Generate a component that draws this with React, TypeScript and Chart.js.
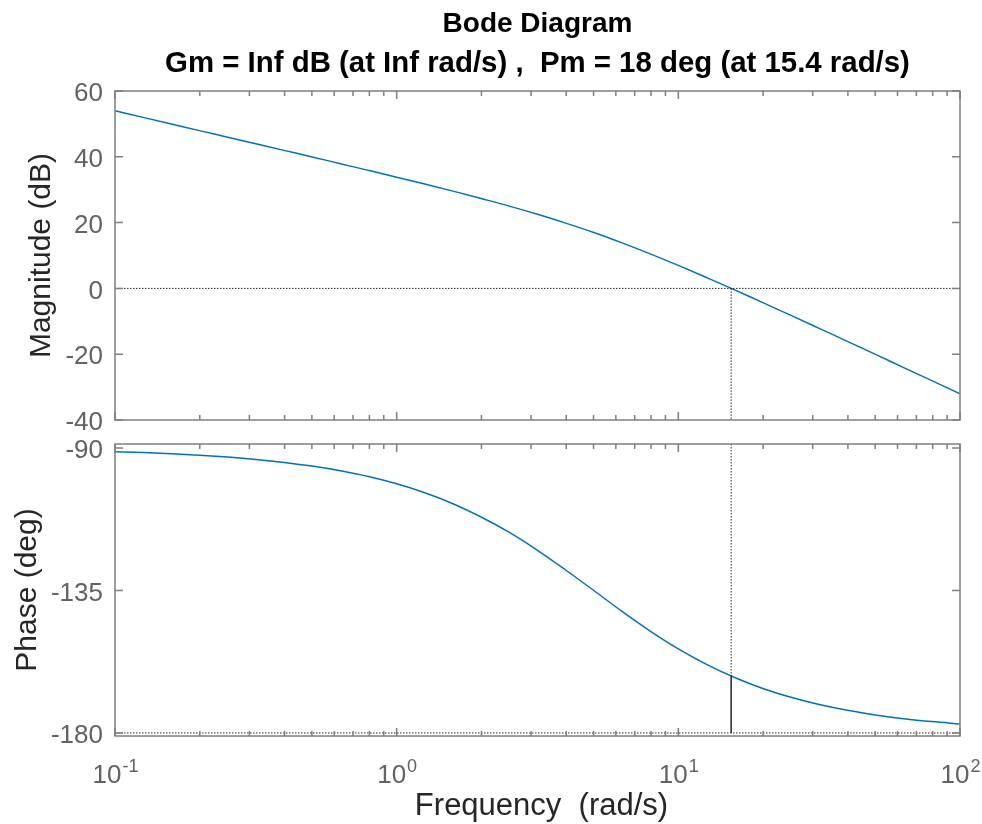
import { useEffect, useRef } from "react";
import { Chart, registerables } from "chart.js";

Chart.register(...registerables);

// ---- data ----
const frequencies = [
  0.1, 0.1259, 0.1585, 0.1995, 0.2512, 0.3162, 0.3981, 0.5012, 0.631, 0.7943,
  1, 1.259, 1.585, 1.995, 2.512, 3.162, 3.981, 5.012, 6.31, 7.943,
  10, 12.59, 15.85, 19.95, 25.12, 31.62, 39.81, 50.12, 63.1, 79.43, 100,
];
const magnitudeDb = [
  53.98, 51.98, 49.97, 47.95, 45.97, 43.96, 41.95, 39.96, 37.91, 35.87,
  33.81, 31.71, 29.57, 27.31, 25.0, 22.52, 19.85, 16.99, 13.84, 10.51,
  6.99, 3.32, -0.43, -4.34, -8.2, -12.14, -16.11, -20.04, -24.07, -28.05, -32.05,
];
const phaseDeg = [
  -91.15, -91.44, -91.82, -92.29, -92.88, -93.62, -94.55, -95.71, -97.19, -99.02,
  -101.31, -104.13, -107.59, -111.8, -116.67, -122.31, -128.53, -135.0, -141.61, -147.8,
  -153.43, -158.34, -162.49, -165.96, -168.74, -171.02, -172.84, -174.29, -175.47, -176.4, -177.14,
];
const magTicks = [60, 40, 20, 0, -20, -40];
const phaseTicks = [-90, -135, -180];
const magRange = [-40, 60];
const phaseRange = [-180.95, -88.74];
const freqRange = [0.1, 100];
const decadeTicks = [0.1, 1, 10, 100];
const decadeExponents = ["-1", "0", "1", "2"];
const minorMultipliers = [2, 3, 4, 5, 6, 7, 8, 9];
const crossoverFreq = 15.4;
const crossoverPhase = -162;
const titleLines = [
  "Bode Diagram",
  "Gm = Inf dB (at Inf rad/s) ,  Pm = 18 deg (at 15.4 rad/s)",
];
const xAxisTitle = "Frequency  (rad/s)";
const magAxisTitle = "Magnitude (dB)";
const phaseAxisTitle = "Phase (deg)";

// ---- styles ----
const FONT = "'Liberation Sans', Arial, Helvetica, sans-serif";
const AXIS_COLOR = "#7f7f7f";
const TICK_TEXT = "#626262";
const LABEL_TEXT = "#262626";
const CURVE = "#0072BD";
const MARK = "#262626";

function makeFramePlugin(opts: { bottomLabels: boolean; title: boolean }) {
  return {
    id: "frame",
    afterDraw(chart: any) {
      const { ctx, chartArea: a, scales } = chart;
      const xs = scales.x;
      const ys = scales.y;
      ctx.save();
      ctx.strokeStyle = AXIS_COLOR;
      ctx.lineWidth = 1.5;
      ctx.strokeRect(a.left, a.top, a.right - a.left, a.bottom - a.top);
      ctx.beginPath();
      const tickAt = (v: number, len: number) => {
        const px = xs.getPixelForValue(v);
        ctx.moveTo(px, a.bottom);
        ctx.lineTo(px, a.bottom - len);
        ctx.moveTo(px, a.top);
        ctx.lineTo(px, a.top + len);
      };
      decadeTicks.forEach((d, i) => {
        tickAt(d, 8);
        if (i < decadeTicks.length - 1) minorMultipliers.forEach((m) => tickAt(d * m, 5));
      });
      ys.ticks.forEach((t: any) => {
        const py = ys.getPixelForValue(t.value);
        ctx.moveTo(a.left, py);
        ctx.lineTo(a.left + 8, py);
        ctx.moveTo(a.right, py);
        ctx.lineTo(a.right - 8, py);
      });
      ctx.stroke();

      if (opts.bottomLabels) {
        ctx.fillStyle = TICK_TEXT;
        ctx.textBaseline = "alphabetic";
        ctx.textAlign = "left";
        decadeTicks.forEach((d, i) => {
          const px = xs.getPixelForValue(d);
          ctx.font = `26px ${FONT}`;
          const wb = ctx.measureText("10").width;
          ctx.font = `18px ${FONT}`;
          const we = ctx.measureText(decadeExponents[i]).width;
          const x0 = px - (wb + we) / 2;
          ctx.font = `26px ${FONT}`;
          ctx.fillText("10", x0, a.bottom + 47);
          ctx.font = `18px ${FONT}`;
          ctx.fillText(decadeExponents[i], x0 + wb + 1, a.bottom + 36);
        });
        ctx.fillStyle = LABEL_TEXT;
        ctx.textAlign = "center";
        ctx.font = `31px ${FONT}`;
        ctx.fillText(xAxisTitle, (a.left + a.right) / 2 + 4, a.bottom + 79);
      }
      if (opts.title) {
        ctx.fillStyle = "#000";
        ctx.textAlign = "center";
        ctx.textBaseline = "alphabetic";
        const cx = (a.left + a.right) / 2;
        ctx.font = `bold 28px ${FONT}`;
        ctx.fillText(titleLines[0], cx, 32);
        ctx.font = `bold 29.4px ${FONT}`;
        ctx.fillText(titleLines[1], cx, 72);
      }
      ctx.restore();
    },
  };
}

function yScale(range: number[], ticks: number[], title: string, titlePad: number) {
  return {
    type: "linear" as const,
    min: range[0],
    max: range[1],
    afterBuildTicks: (s: any) => {
      s.ticks = ticks.map((v) => ({ value: v }));
    },
    afterFit: (s: any) => {
      s.width = 115;
      s.paddingTop = 0;
      s.paddingBottom = 0;
    },
    grid: { display: false, drawTicks: false },
    border: { display: false },
    ticks: {
      font: { family: FONT, size: 26, lineHeight: 0.8 },
      color: TICK_TEXT,
      padding: 12,
      labelOffset: 3,
      callback: (v: any) => String(v),
    },
    title: {
      display: true,
      text: title,
      font: { family: FONT, size: 30 },
      color: LABEL_TEXT,
      padding: { top: titlePad, bottom: 0 },
    },
  };
}

const xScale = {
  type: "logarithmic" as const,
  min: freqRange[0],
  max: freqRange[1],
  display: false,
};

export default function App() {
  const topRef = useRef<HTMLCanvasElement>(null);
  const botRef = useRef<HTMLCanvasElement>(null);

  useEffect(() => {
    const magPts = frequencies.map((f, i) => ({ x: f, y: magnitudeDb[i] }));
    const phPts = frequencies.map((f, i) => ({ x: f, y: phaseDeg[i] }));

    const top = new Chart(topRef.current!, {
      type: "line",
      data: {
        datasets: [
          {
            data: [{ x: freqRange[0], y: 0 }, { x: freqRange[1], y: 0 }],
            borderColor: MARK,
            borderWidth: 1,
            borderDash: [1.5, 1.5],
            pointRadius: 0,
          },
          {
            data: [{ x: crossoverFreq, y: 0 }, { x: crossoverFreq, y: magRange[0] }],
            borderColor: MARK,
            borderWidth: 1,
            borderDash: [1.5, 1.5],
            pointRadius: 0,
          },
          {
            data: magPts,
            borderColor: CURVE,
            borderWidth: 1.5,
            pointRadius: 0,
            cubicInterpolationMode: "monotone",
          },
        ],
      },
      options: {
        responsive: false,
        animation: false,
        events: [],
        layout: { padding: { top: 91, bottom: 12, left: 0, right: 22 } },
        plugins: { legend: { display: false }, tooltip: { enabled: false } },
        scales: { x: xScale, y: yScale(magRange, magTicks, magAxisTitle, 24) },
      },
      plugins: [makeFramePlugin({ bottomLabels: false, title: true })],
    });

    const bot = new Chart(botRef.current!, {
      type: "line",
      data: {
        datasets: [
          {
            data: [{ x: freqRange[0], y: -180 }, { x: freqRange[1], y: -180 }],
            borderColor: MARK,
            borderWidth: 1,
            borderDash: [1.5, 1.5],
            pointRadius: 0,
          },
          {
            data: [{ x: crossoverFreq, y: phaseRange[1] }, { x: crossoverFreq, y: crossoverPhase }],
            borderColor: MARK,
            borderWidth: 1,
            borderDash: [1.5, 1.5],
            pointRadius: 0,
          },
          {
            data: [{ x: crossoverFreq, y: -180 }, { x: crossoverFreq, y: crossoverPhase }],
            borderColor: MARK,
            borderWidth: 1.5,
            pointRadius: 0,
          },
          {
            data: phPts,
            borderColor: CURVE,
            borderWidth: 1.5,
            pointRadius: 0,
            cubicInterpolationMode: "monotone",
          },
        ],
      },
      options: {
        responsive: false,
        animation: false,
        events: [],
        layout: { padding: { top: 12, bottom: 88, left: 0, right: 22 } },
        plugins: { legend: { display: false }, tooltip: { enabled: false } },
        scales: { x: xScale, y: yScale(phaseRange, phaseTicks, phaseAxisTitle, 10) },
      },
      plugins: [makeFramePlugin({ bottomLabels: true, title: false })],
    });

    return () => {
      top.destroy();
      bot.destroy();
    };
  }, []);

  return (
    <div style={{ position: "absolute", left: 0, top: 0, width: 982, height: 824, background: "#fff", overflow: "hidden" }}>
      <canvas ref={topRef} width={982} height={432} style={{ position: "absolute", left: 0, top: 0, display: "block" }} />
      <canvas ref={botRef} width={982} height={392} style={{ position: "absolute", left: 0, top: 432, display: "block" }} />
    </div>
  );
}
